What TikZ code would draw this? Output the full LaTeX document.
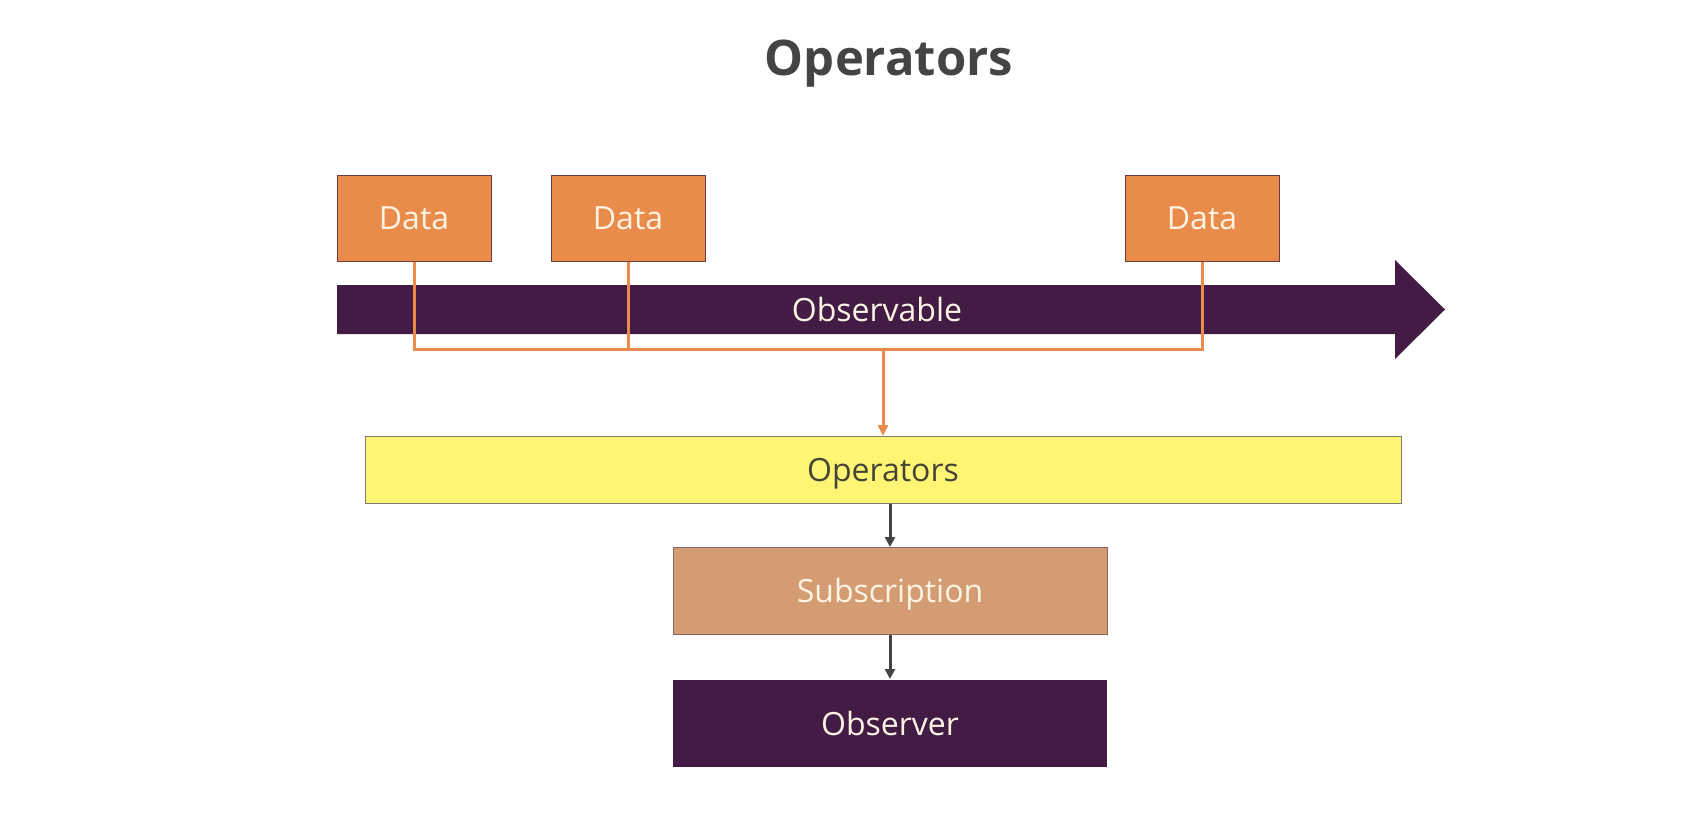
\documentclass[tikz,border=0pt]{standalone}
\usepackage{fontspec}
\setmainfont{Open Sans}
\newfontfamily\titlefont{Open Sans}
\usetikzlibrary{positioning}
\usetikzlibrary{arrows.meta}
\definecolor{data-orange}{RGB}{233, 139, 74}
\definecolor{obs-purple}{RGB}{67, 28, 69}
\definecolor{op-yellow}{RGB}{254, 245, 117}
\definecolor{sub-tan}{RGB}{212, 156, 114}
\definecolor{label-cream}{RGB}{253, 243, 226}
\definecolor{label-dark}{RGB}{70, 68, 52}
\definecolor{arrow-grey}{RGB}{68, 68, 68}
\definecolor{edge-brown}{RGB}{110, 60, 62}
\tikzset{
  box/.style={rectangle, inner sep=0pt, line width=1pt, text=label-cream,
    font=\fontsize{32}{36}\selectfont},
  data/.style={box, fill=data-orange, draw=edge-brown, minimum width=154pt, minimum height=86pt},
  feed/.style={draw=data-orange, line width=3pt},
  pass/.style={draw=arrow-grey, line width=3pt, -{Triangle[length=10pt,width=10pt]}}
}
\begin{document}
\begin{tikzpicture}[x=1pt,y=-1pt]
\useasboundingbox (0,0) rectangle (1706,838);
\node[font=\titlefont\bfseries\fontsize{49}{54}\selectfont, text=arrow-grey] (title) at (889,64) {Operators};
% the stream
\fill[obs-purple] (337,285) -- (1395,285) -- (1395,260) -- (1445,309.5) -- (1395,359) -- (1395,334) -- (337,334) -- cycle;
\node[box] (obs) at (877,309) {Observable};
\node[data] (d1) at (414,218) {Data};
\node[data] (d2) at (628,218) {Data};
\node[data] (d3) at (1202,218) {Data};
\node[box, fill=op-yellow, draw=label-dark!70, text=label-dark, text depth=1pt, minimum width=1036pt, minimum height=67pt] (ops) at (883,470) {Operators};
\node[box, fill=sub-tan, draw=edge-brown!80, text depth=1pt, minimum width=434pt, minimum height=87pt] (sub) at (890,591) {Subscription};
\node[box, fill=obs-purple, minimum width=434pt, minimum height=87pt] (obsr) at (890,723) {Observer};
\coordinate (bus) at (ops.north |- 0,349);
\draw[feed] (d1.south) |- (bus) -| (d3.south);
\draw[feed] (d2.south) -- (d2.south |- bus);
\draw[feed, -{Triangle[length=11pt,width=10pt]}] (bus) -- (ops.north);
\draw[pass] (ops.south -| sub.north) -- (sub.north);
\draw[pass] (sub.south) -- (obsr.north);
\end{tikzpicture}
\end{document}
